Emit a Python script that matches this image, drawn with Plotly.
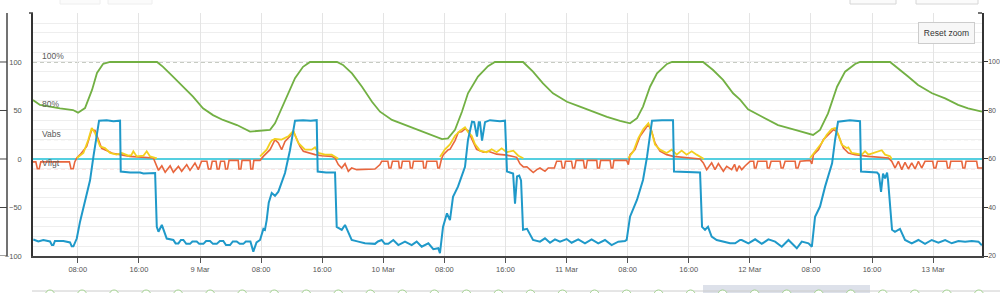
import datetime as dt
import plotly.graph_objects as go

BASE = dt.datetime(2023, 3, 8)

# ---------------- data (hours since 8 Mar 00:00) ----------------
soc_hours = [2.13, 3.05, 5.67, 7.37, 8.03, 8.94, 9.86, 10.51, 11.3, 12.22, 18.37, 19.16, 20.46, 21.77,
             23.08, 24.39, 25.7, 27.01, 28.84, 30.55, 32.25, 33.17, 33.82, 35.13, 36.44, 37.49, 38.41,
             41.94, 42.72, 43.9, 45.21, 46.52, 47.57, 49.14, 50.84, 52.55, 54.38, 55.69, 56.47, 57.39,
             58.3, 59.09, 60.4, 61.71, 62.62, 66.3, 67.6, 68.91, 70.22, 72.05, 73.75, 75.46, 77.29, 79.0,
             80.31, 81.23, 82.01, 82.93, 83.84, 85.15, 85.81, 89.87, 91.18, 92.49, 93.8, 94.72, 95.76,
             97.6, 99.69, 101.93, 104.28, 105.19, 106.24, 107.42, 108.47, 109.78, 110.43, 114.36,
             115.41, 116.72, 118.03, 119.86, 121.57, 123.27, 124.58, 126.4]
soc_pct = [84.3, 82.3, 80.9, 80.2, 79.1, 81, 88.5, 95.5, 99.2, 100, 100, 98, 94, 89.8,
           85.7, 80.9, 78.1, 76.1, 74, 71.3, 71.7, 72, 74.7, 84.3, 93.3, 98, 100,
           100, 98.8, 95.3, 89.8, 83.6, 79.5, 76.1, 74, 72, 69.9, 68.2, 68.5, 72,
           79.5, 87.1, 94, 98.3, 100, 100, 96, 91.2, 87.1, 83.6, 81.6, 79.5, 77.4, 75.7,
           74.7, 76.8, 81.6, 89.8, 95.3, 99.2, 100, 100, 96.7, 92.6, 87.1, 84.5, 80.5,
           77.4, 74, 72, 69.9, 72, 78.8, 89.8, 96, 99.2, 100, 100,
           97.4, 94, 90.5, 87.1, 85, 82.3, 80.9, 79.5]

blue_hours = [2.17, 2.83, 3.48, 4.36, 4.6, 4.8, 5.0, 6.11, 6.98, 7.2, 7.42, 7.86, 8.29, 8.94, 9.6, 10.04,
              10.47, 10.78, 11.78, 12.66, 13.53, 13.62, 14.85, 16.15, 16.59, 18.12, 18.34, 18.56, 19.0,
              19.64, 20.51, 20.8, 21.17, 21.5, 21.82, 22.2, 22.69, 23.0, 23.57, 23.9, 24.44, 24.8, 25.31,
              25.7, 26.19, 26.6, 27.05, 27.4, 27.93, 28.3, 28.8, 29.2, 29.67, 30.0, 30.6, 30.98, 31.4,
              31.86, 32.3, 32.5, 32.73, 33.0, 33.39, 33.82, 34.26, 34.69, 35.13, 35.78, 36.44, 37.5,
              38.5, 39.28, 39.41, 40.5, 41.68, 41.9, 42.56, 42.99, 43.64, 43.86, 44.73, 45.6, 46.91,
              47.3, 47.79, 48.2, 48.66, 49.31, 49.97, 50.84, 51.72, 52.37, 53.03, 53.9, 54.55, 55.2,
              55.42, 55.82, 56.34, 56.73, 57.13, 57.78, 58.7, 59.09, 59.62, 59.9, 60.27, 60.5, 60.66,
              60.93, 61.32, 61.97, 63.28, 63.94, 64.2, 64.6, 65.0, 65.25, 65.51, 65.8, 66.04, 66.3,
              66.82, 67.61, 68.52, 69.17, 69.83, 70.48, 71.14, 72.01, 72.66, 73.53, 74.41, 75.28,
              76.15, 77.03, 77.9, 78.77, 79.65, 79.87, 80.31, 81.23, 82.01, 82.54, 82.93, 83.19, 84.5,
              85.94, 86.07, 88.0, 89.48, 89.74, 90.13, 90.52, 91.0, 91.66, 92.53, 93.41, 94.07, 94.72,
              94.94, 95.81, 96.69, 97.56, 98.43, 99.31, 100.18, 101.06, 102.15, 102.8, 103.68, 104.12,
              104.54, 105.19, 105.85, 106.77, 107.16, 107.55, 109.1, 110.43, 110.56, 112.66, 112.9,
              113.18, 113.44, 113.7, 113.97, 114.1, 114.62, 115.0, 115.66, 116.32, 117.2, 118.07,
              118.94, 119.82, 120.69, 121.57, 122.44, 123.31, 124.19, 125.06, 125.94, 126.38]
blue_vals = [-83, -85, -83.5, -85, -88.7, -88.7, -84.5, -84.5, -86, -90, -90, -82, -64.6, -42, -22, 2.4,
             23, 39.5, 40, 39, 39.5, -13, -14, -14, -15, -14.4, -70, -75, -68,
             -82, -83.5, -87, -87, -83.5, -83.5, -87.5, -87.5, -85, -85, -87.5, -87.5, -84.5, -84.5,
             -87.5, -87.5, -84.5, -84.5, -88.7, -88.7, -85, -85, -87.5, -87.5, -85, -85, -95.5, -86,
             -83.5, -72, -73, -63, -45, -35, -38, -33.7, -25, -14.5, 9, 39.5, 40,
             39.5, 40, -13, -14, -14, -70, -73, -68, -80, -83.5, -85.2, -86.9, -87.5,
             -85, -83.5, -87.5, -87.5, -83.5, -88.7, -85.2, -88.7, -85.2, -90.4, -86.9, -93, -92,
             -97, -70, -56, -63, -39, -28.5, -8, 19.6, 38.5, 38, 23, 38, 38,
             19, 38, 40, 39, 39.5, -13, -14, -15, -46, -18, -17, -22, -73,
             -72, -83.5, -85.2, -81.8, -86.3, -82.8, -85.2, -82.5, -86.3, -82.8, -86.9, -82.8,
             -86.9, -83.5, -88.7, -85.2, -84.5, -83.5, -59.5, -42, -21.6, 2.4, 23, 39.5, 40,
             40, -13, -14, -14, -70, -73, -70, -80, -83.5, -85.2, -86.9, -86.9, -83.5,
             -83.5, -86.9, -82.8, -87.5, -82.8, -85.2, -90.4, -83.5, -92, -85.2, -86.9, -90.4,
             -59.5, -49, -28.5, -4.4, 19.6, 38.5, 40, 39, -13, -14, -16,
             -34, -15, -20, -14, -22, -73, -75, -72, -83.5, -86.9, -83.5,
             -87.5, -83.5, -86.3, -83.5, -86.9, -84.5, -85.2, -84.5, -85.2, -89]

orange_hours = [2.13, 2.5, 2.7, 2.95, 3.15, 6.9, 7.1, 7.4, 7.6, 7.86, 8.29, 9.16, 9.82, 10.25, 10.69, 11.12,
                11.99, 12.5, 13.53, 14.83, 17.89, 18.12, 18.56, 19.0, 19.44, 20.09, 20.51, 21.17, 21.6,
                22.26, 22.69, 23.34, 23.78, 24.2, 24.9, 25.1, 25.4, 25.6, 26.1, 26.25, 26.5, 26.7, 27.2,
                27.35, 27.6, 27.8, 29.0, 29.1, 29.35, 29.5, 30.55, 30.65, 30.9, 31.05, 31.86, 32.29,
                33.17, 33.39, 33.82, 34.26, 34.69, 35.13, 35.78, 36.22, 36.66, 37.09, 37.53, 38.18,
                39.06, 39.93, 41.24, 41.68, 42.11, 42.55, 42.99, 43.42, 43.86, 44.52, 45.6, 46.91, 47.57,
                47.79, 48.6, 48.75, 49.0, 49.2, 50.0, 50.1, 50.35, 50.5, 51.45, 51.55, 51.8, 51.95, 53.2,
                53.3, 53.55, 53.7, 55.0, 55.15, 55.35, 55.62, 55.86, 56.51, 56.73, 57.39, 57.83, 58.26,
                58.7, 59.13, 59.57, 60.22, 61.1, 61.75, 62.84, 64.16, 65.47, 65.9, 66.34, 66.8, 67.21,
                67.64, 68.1, 68.52, 69.17, 69.6, 70.4, 70.7, 71.3, 71.45, 71.7, 71.85, 72.65, 72.8, 73.05,
                73.25, 74.2, 74.35, 74.55, 74.72, 75.95, 76.05, 76.3, 76.46, 77.7, 77.85, 78.05, 78.2,
                79.87, 80.09, 80.31, 80.96, 81.62, 82.27, 82.71, 83.14, 83.58, 84.23, 85.11, 85.98, 87.72,
                89.48, 89.91, 90.35, 91.0, 91.44, 91.88, 92.53, 92.97, 93.62, 94.0, 94.28, 94.6, 94.94,
                95.4, 96.03, 96.5, 96.6, 96.8, 97.03, 98.2, 98.3, 98.55, 98.78, 99.96, 100.1, 100.35,
                100.62, 101.93, 102.05, 102.3, 102.58, 103.89, 104.12, 104.33, 104.98, 105.63, 106.29,
                106.94, 107.38, 107.82, 108.25, 108.91, 109.78, 111.53, 113.27, 114.15, 114.58, 115.02,
                115.45, 115.89, 116.32, 116.76, 117.2, 117.63, 118.07, 118.5, 118.94, 119.95, 120.1,
                120.35, 120.56, 121.75, 121.9, 122.15, 122.31, 123.75, 123.9, 124.15, 124.31, 125.7,
                125.85, 126.4]
orange_vals = [-3, -3, -10, -10, -3, -3, -10, -10, -3, 1, 4.5, 13, 30, 29.5, 20, 11,
               8, 6, 4.5, 2.7, 1, -4, -11.7, -7, -13.7, -7, -13.7, -7.6, -12.7,
               -5.8, -11.7, -4.1, -11, -2.4, -2.4, -10.3, -10.3, -2.4, -2.4, -10.3, -10.3, -2.4, -2.4,
               -10.3, -10.3, -1.4, -1.4, -10.3, -10.3, -1.4, -1.4, -10.3, -10.3, -1.4, -1.4, 2.7,
               9.6, 13, 20, 16.5, 9.6, 18.2, 23.4, 28.5, 20, 13, 8, 6.2,
               4.5, 3.4, 2.7, 1, -5.8, -9.3, -4.8, -12.7, -9.3, -11, -11, -10.3, -5.8,
               -2.4, -2.4, -9.3, -9.3, -2.4, -2.4, -9.3, -9.3, -2.4, -2.4, -9.3, -9.3, -2.4, -2.4,
               -9.3, -9.3, -2.4, -2.4, -9.3, -9.3, 0, 4.5, 9.6, 10, 19, 27.5, 28,
               31, 29, 21, 10, 7, 8, 5, 4, 1.7, -5, -8.2, -8, -11,
               -14, -11, -9.3, -12.7, -9.3, -9.3, -2.4, -2.4, -9.3, -9.3, -2.4, -2.4, -9.3, -9.3,
               -1.4, -1.4, -9.3, -9.3, -1.4, -1.4, -9.3, -9.3, -1.4, -1.4, -9.3, -9.3, -1.4,
               -1.4, -5.8, 4.5, 9.6, 23.4, 30.2, 35.4, 28.5, 16.5, 8, 4.5, 2.7, 1,
               0, -4, -11, -4, -11, -4.8, -12.7, -7.6, -11, -5.5, -12.7, -7, -11,
               -7, -2.4, -2.4, -9.3, -9.3, -2.4, -2.4, -9.3, -9.3, -2.4, -2.4, -9.3, -9.3,
               -2.4, -2.4, -9.3, -9.3, -2.4, -1.4, -5, 4.5, 9.6, 20, 25,
               30.2, 28.5, 20, 11.3, 6.2, 4.5, 2.7, 2, 1, -2.4, -9.3,
               -2.4, -11, -3.4, -10.3, -4, -10.3, -2.4, -9.3, -2.4, -2.4, -9.3,
               -9.3, -2.4, -2.4, -9.3, -9.3, -2.4, -2.4, -9.3, -9.3, -2.4, -2.4,
               -9.3, -9.3]

yellow_hours = [7.86, 8.73, 9.38, 9.82, 10.25, 10.91, 11.56, 12.22, 13.09, 13.75, 14.62, 15.0, 15.27, 15.71,
                16.59, 17.02, 17.46, 18.34, 25.0,
                31.86, 32.73, 33.17, 33.39, 33.82, 34.69, 35.56, 36.22, 36.87, 37.75, 38.62, 39.06, 39.49,
                40.37, 41.24, 41.68, 42.11, 50.0,
                55.42, 55.86, 56.08, 56.73, 57.39, 58.04, 58.7, 59.13, 59.57, 60.0, 60.66, 61.53, 62.19,
                62.84, 63.5, 64.16, 65.03, 65.68, 66.34, 75.0,
                80.09, 80.75, 81.4, 82.06, 82.71, 83.14, 83.58, 84.23, 85.11, 85.76, 86.42, 87.07, 87.72,
                88.38, 89.03, 89.7, 89.99, 100.0,
                103.89, 104.54, 105.41, 106.07, 106.72, 107.16, 107.6, 108.03, 108.69, 108.9, 109.34,
                110.65, 111.09, 111.53, 112.18, 113.27, 113.71, 114.36, 114.58]
yellow_vals = [1, 6.2, 20, 32, 26.8, 13, 11.3, 6.2, 4.5, 6.2, 3.4, 4, 8, 2.7,
               3.4, 8, 2.7, 0.7, None,
               2.7, 9.6, 16.5, 19, 20.6, 20, 23.4, 29, 16.5, 9.6, 9.6, 12, 6.2,
               4.5, 4.5, 2.7, 0.3, None,
               2, 7, 10, 15, 24, 29, 32.6, 27.5, 24, 15.5, 8.6, 7, 10,
               7, 11, 7, 8.6, 3.4, 0.7, None,
               1, 8, 21.6, 31, 37, 28.5, 14.8, 9.6, 6.2, 9.6, 4.5, 8.6, 4.5,
               8, 4.5, 1, 0, None,
               1, 8, 16.5, 25, 31, 32, 25, 14.8, 11.3, 12, 6.2,
               4.5, 8, 4.5, 6.2, 9, 4.5, 2.7, 0]

tick_hours = [8, 16, 24, 32, 40, 48, 56, 64, 72, 80, 88, 96, 104, 112, 120]
tick_labels = ["08:00", "16:00", "9 Mar", "08:00", "16:00", "10 Mar", "08:00", "16:00", "11 Mar",
               "08:00", "16:00", "12 Mar", "08:00", "16:00", "13 Mar"]
left_ticks = [-100, -50, 0, 50, 100]
right_ticks = [20, 40, 60, 80, 100]
view_hours = [2.13, 126.4]

# reference levels: (label, axis, value, colour)
ref_levels = [("100%", "y2", 100, "#8c9484"), ("80%", "y2", 80, "#de6a55"),
              ("Vabs", "y", 20, "#9a9c8c"), ("Vflgt", "y", -10, "#ec8c84")]


def ts(hours):
    return [BASE + dt.timedelta(hours=h) for h in hours]


# ---------------- geometry helpers (layout px -> paper) ----------------
W, H = 1000, 293
ML, MR, MT, MB = 33, 18, 13, 37
PW, PH = W - ML - MR, H - MT - MB


def px(x):
    return (x - ML) / PW


def py(y):
    return (H - MB - y) / PH


fig = go.Figure()
fig.add_trace(go.Scatter(x=ts(soc_hours), y=soc_pct, yaxis="y2", mode="lines",
                         line=dict(color="#72b043", width=1.8), hoverinfo="skip"))
fig.add_trace(go.Scatter(x=ts(orange_hours), y=orange_vals, mode="lines",
                         line=dict(color="#e8663d", width=1.6), hoverinfo="skip"))
fig.add_trace(go.Scatter(x=ts(yellow_hours), y=yellow_vals, mode="lines", connectgaps=False,
                         line=dict(color="#f2d01e", width=1.8), hoverinfo="skip"))
fig.add_trace(go.Scatter(x=ts(blue_hours), y=blue_vals, mode="lines",
                         line=dict(color="#1f99c9", width=2), hoverinfo="skip"))

shapes = []
annotations = []
for label, ax, val, col in ref_levels:
    shapes.append(dict(type="line", xref="paper", x0=0, x1=1, yref=ax, y0=val, y1=val,
                       line=dict(color=col, width=1, dash="4px,3px"), layer="below"))
    annotations.append(dict(text=label, xref="paper", x=px(40), yref=ax, y=val,
                            xanchor="left", yanchor="bottom", showarrow=False, yshift=-1,
                            font=dict(size=8.5, color="#5a5a5a")))

# outer (cropped) left axis line with its ticks
shapes.append(dict(type="line", xref="paper", x0=px(7), x1=px(7), yref="paper", y0=0, y1=1,
                   line=dict(color="#444", width=1.5)))
for v in left_ticks:
    shapes.append(dict(type="line", xref="paper", x0=px(0), x1=px(7), yref="y", y0=v, y1=v,
                       line=dict(color="#444", width=1)))
# little hooks at top of axes
shapes.append(dict(type="line", xref="paper", x0=px(29), x1=px(33), yref="paper", y0=1, y1=1,
                   line=dict(color="#444", width=1.5)))
shapes.append(dict(type="line", xref="paper", x0=px(978), x1=px(982), yref="paper", y0=1, y1=1,
                   line=dict(color="#444", width=1.5)))

# faint toolbar buttons at the top (cropped)
for x0, x1, col in [(60, 100, "#eeeeee"), (108, 152, "#eeeeee"), (850, 896, "#d6d6d6"), (916, 978, "#d6d6d6")]:
    shapes.append(dict(type="rect", xref="paper", yref="paper", x0=px(x0), x1=px(x1),
                       y0=py(4), y1=py(-6), line=dict(color=col, width=1), fillcolor="#fbfbfb"))

# navigator strip at the bottom (cropped)
shapes.append(dict(type="rect", xref="paper", yref="paper", x0=px(703), x1=px(870), y0=py(300),
                   y1=py(285), line=dict(width=0), fillcolor="#dde1ea"))
shapes.append(dict(type="line", xref="paper", yref="paper", x0=px(32), x1=px(1000), y0=py(291),
                   y1=py(291), line=dict(color="#cccccc", width=1)))
cx = 50.0
while cx < 990:
    shapes.append(dict(type="circle", xref="paper", yref="paper", x0=px(cx - 4.5), x1=px(cx + 4.5),
                       y0=py(299), y1=py(290), line=dict(color="#9fcf8c", width=1), fillcolor="white"))
    cx += 32.03

# reset zoom button
annotations.append(dict(text="Reset zoom", xref="paper", yref="paper", x=px(946.5), y=py(33),
                        xanchor="center", yanchor="middle", showarrow=False, width=49, height=14,
                        bgcolor="#f7f7f7", bordercolor="#cccccc", borderwidth=1, borderpad=3,
                        font=dict(size=8.5, color="#333")))

fig.update_layout(
    width=W, height=H, margin=dict(l=ML, r=MR, t=MT, b=MB, autoexpand=False),
    paper_bgcolor="white", plot_bgcolor="white", showlegend=False,
    font=dict(family="Liberation Sans, Arial, sans-serif", size=8, color="#666"),
    shapes=shapes, annotations=annotations,
    xaxis=dict(type="date", range=ts(view_hours), tickmode="array", tickvals=ts(tick_hours),
               ticktext=tick_labels, ticks="outside", ticklen=5, tickcolor="#555", tickwidth=1,
               showline=True, linecolor="#444", linewidth=1.5, showgrid=True, gridcolor="#e4e4e4",
               gridwidth=1, zeroline=False, tickfont=dict(size=7.5, color="#555"), automargin=False),
    yaxis=dict(range=[-100, 150.5], tickmode="array", tickvals=left_ticks, ticks="",
               showline=True, linecolor="#333", linewidth=1.5, showgrid=True, gridcolor="#eeeeee",
               minor=dict(tickmode="linear", tick0=0, dtick=10, showgrid=True, gridcolor="#eeeeee",
                          ticks=""),
               zeroline=True, zerolinecolor="#55cfe0", zerolinewidth=2.2,
               tickfont=dict(size=7.5, color="#555"), ticklabelstandoff=8, automargin=False),
    yaxis2=dict(range=[20, 120.2], overlaying="y", side="right", anchor="x", tickmode="array",
                tickvals=right_ticks, ticks="outside", ticklen=4, tickcolor="#333",
                showline=True, linecolor="#333", linewidth=1.5, showgrid=False, zeroline=False,
                ticklabelstandoff=-1,
                tickfont=dict(size=7, color="#555"), automargin=False),
)

fig.write_html("out.html")
